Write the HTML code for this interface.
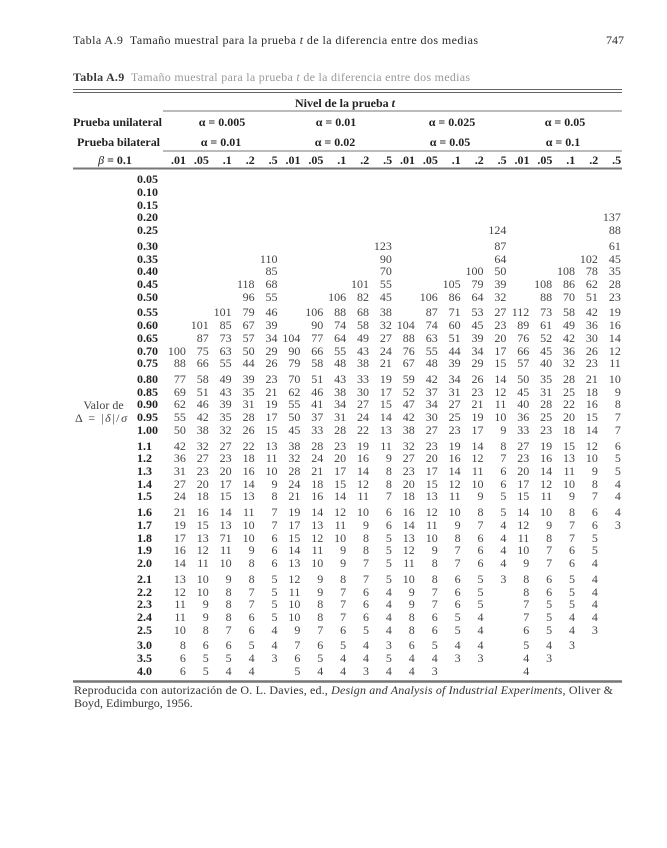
<!DOCTYPE html>
<html>
<head>
<meta charset="utf-8">
<style>
html,body{margin:0;padding:0;background:#fff;}
body{width:667px;height:848px;position:relative;overflow:hidden;font-family:"Liberation Serif",serif;}
svg{position:absolute;left:0;top:0;}
.r{position:absolute;left:137px;height:14px;line-height:14px;display:grid;grid-template-columns:26px repeat(20,22.9px);font-size:12px;font-family:"Liberation Serif",serif;color:#444;}
.r i{font-style:normal;text-align:right;white-space:nowrap;}
.r b{font-weight:bold;color:#222;white-space:nowrap;}
</style>
</head>
<body>
<svg width="667" height="848" viewBox="0 0 667 848" font-family="Liberation Serif, serif">
  <text x="73" y="44" font-size="12" fill="#2a2a2a" textLength="405" lengthAdjust="spacing">Tabla A.9&#160; Tamaño muestral para la prueba <tspan font-style="italic">t</tspan> de la diferencia entre dos medias</text>
  <text x="624" y="44" font-size="12" fill="#2a2a2a" text-anchor="end">747</text>
  <text x="73" y="81" font-size="12" fill="#9a9a9a" textLength="397" lengthAdjust="spacing"><tspan font-weight="bold" fill="#3a3a3a">Tabla A.9</tspan>&#160; Tamaño muestral para la prueba <tspan font-style="italic">t</tspan> de la diferencia entre dos medias</text>
  <line x1="73" y1="89.5" x2="622" y2="89.5" stroke="#666" stroke-width="1"/>
  <line x1="73" y1="92.5" x2="622" y2="92.5" stroke="#666" stroke-width="1"/>
  <text x="295" y="107" font-size="12" font-weight="bold" fill="#222">Nivel de la prueba <tspan font-style="italic">t</tspan></text>
  <line x1="163" y1="111" x2="622" y2="111" stroke="#777" stroke-width="1"/>
  <text x="73" y="126" font-size="12" font-weight="bold" fill="#222" textLength="89" lengthAdjust="spacing">Prueba unilateral</text>
  <text x="77" y="146" font-size="12" font-weight="bold" fill="#222" textLength="83" lengthAdjust="spacing">Prueba bilateral</text>
  <g font-size="12" font-weight="bold" fill="#222" text-anchor="middle">
    <text x="222" y="126">α = 0.005</text>
    <text x="336" y="126">α = 0.01</text>
    <text x="452" y="126">α = 0.025</text>
    <text x="565" y="126">α = 0.05</text>
    <text x="221" y="146">α = 0.01</text>
    <text x="335" y="146">α = 0.02</text>
    <text x="450" y="146">α = 0.05</text>
    <text x="563" y="146">α = 0.1</text>
  </g>
  <line x1="163" y1="151" x2="622" y2="151" stroke="#777" stroke-width="1"/>
  <text x="115" y="164" font-size="12" font-weight="bold" fill="#222" text-anchor="middle"><tspan font-style="italic" font-weight="normal">β</tspan> = 0.1</text>
  <g font-size="12" font-weight="bold" fill="#222" text-anchor="end">
    <text x="186" y="164">.01</text><text x="208.9" y="164">.05</text><text x="231.8" y="164">.1</text><text x="254.7" y="164">.2</text><text x="277.6" y="164">.5</text>
    <text x="300.5" y="164">.01</text><text x="323.4" y="164">.05</text><text x="346.3" y="164">.1</text><text x="369.2" y="164">.2</text><text x="392.1" y="164">.5</text>
    <text x="415" y="164">.01</text><text x="437.9" y="164">.05</text><text x="460.8" y="164">.1</text><text x="483.7" y="164">.2</text><text x="506.6" y="164">.5</text>
    <text x="529.5" y="164">.01</text><text x="552.4" y="164">.05</text><text x="575.3" y="164">.1</text><text x="598.2" y="164">.2</text><text x="621.1" y="164">.5</text>
  </g>
  <line x1="73" y1="168.5" x2="622" y2="168.5" stroke="#777" stroke-width="2"/>
  <text x="103.5" y="409" font-size="12" fill="#444" text-anchor="middle">Valor de</text>
  <text x="75" y="422" font-size="12" fill="#444" textLength="52" lengthAdjust="spacing">Δ = |<tspan font-style="italic">δ</tspan>|/<tspan font-style="italic">σ</tspan></text>
  <line x1="73" y1="681.5" x2="622" y2="681.5" stroke="#777" stroke-width="2.5"/>
  <text x="74" y="694" font-size="12" fill="#333" textLength="539" lengthAdjust="spacing">Reproducida con autorización de O. L. Davies, ed., <tspan font-style="italic">Design and Analysis of Industrial Experiments</tspan>, Oliver &amp;</text>
  <text x="74" y="707" font-size="12" fill="#333">Boyd, Edimburgo, 1956.</text>
</svg>

<div class="r" style="top:172.2px"><b>0.05</b></div>
<div class="r" style="top:184.9px"><b>0.10</b></div>
<div class="r" style="top:197.6px"><b>0.15</b></div>
<div class="r" style="top:210.3px"><b>0.20</b><i></i><i></i><i></i><i></i><i></i><i></i><i></i><i></i><i></i><i></i><i></i><i></i><i></i><i></i><i></i><i></i><i></i><i></i><i></i><i>137</i></div>
<div class="r" style="top:223.0px"><b>0.25</b><i></i><i></i><i></i><i></i><i></i><i></i><i></i><i></i><i></i><i></i><i></i><i></i><i></i><i></i><i>124</i><i></i><i></i><i></i><i></i><i>88</i></div>

<div class="r" style="top:238.8px"><b>0.30</b><i></i><i></i><i></i><i></i><i></i><i></i><i></i><i></i><i></i><i>123</i><i></i><i></i><i></i><i></i><i>87</i><i></i><i></i><i></i><i></i><i>61</i></div>
<div class="r" style="top:251.5px"><b>0.35</b><i></i><i></i><i></i><i></i><i>110</i><i></i><i></i><i></i><i></i><i>90</i><i></i><i></i><i></i><i></i><i>64</i><i></i><i></i><i></i><i>102</i><i>45</i></div>
<div class="r" style="top:264.2px"><b>0.40</b><i></i><i></i><i></i><i></i><i>85</i><i></i><i></i><i></i><i></i><i>70</i><i></i><i></i><i></i><i>100</i><i>50</i><i></i><i></i><i>108</i><i>78</i><i>35</i></div>
<div class="r" style="top:276.9px"><b>0.45</b><i></i><i></i><i></i><i>118</i><i>68</i><i></i><i></i><i></i><i>101</i><i>55</i><i></i><i></i><i>105</i><i>79</i><i>39</i><i></i><i>108</i><i>86</i><i>62</i><i>28</i></div>
<div class="r" style="top:289.6px"><b>0.50</b><i></i><i></i><i></i><i>96</i><i>55</i><i></i><i></i><i>106</i><i>82</i><i>45</i><i></i><i>106</i><i>86</i><i>64</i><i>32</i><i></i><i>88</i><i>70</i><i>51</i><i>23</i></div>

<div class="r" style="top:305.4px"><b>0.55</b><i></i><i></i><i>101</i><i>79</i><i>46</i><i></i><i>106</i><i>88</i><i>68</i><i>38</i><i></i><i>87</i><i>71</i><i>53</i><i>27</i><i>112</i><i>73</i><i>58</i><i>42</i><i>19</i></div>
<div class="r" style="top:318.1px"><b>0.60</b><i></i><i>101</i><i>85</i><i>67</i><i>39</i><i></i><i>90</i><i>74</i><i>58</i><i>32</i><i>104</i><i>74</i><i>60</i><i>45</i><i>23</i><i>89</i><i>61</i><i>49</i><i>36</i><i>16</i></div>
<div class="r" style="top:330.8px"><b>0.65</b><i></i><i>87</i><i>73</i><i>57</i><i>34</i><i>104</i><i>77</i><i>64</i><i>49</i><i>27</i><i>88</i><i>63</i><i>51</i><i>39</i><i>20</i><i>76</i><i>52</i><i>42</i><i>30</i><i>14</i></div>
<div class="r" style="top:343.5px"><b>0.70</b><i>100</i><i>75</i><i>63</i><i>50</i><i>29</i><i>90</i><i>66</i><i>55</i><i>43</i><i>24</i><i>76</i><i>55</i><i>44</i><i>34</i><i>17</i><i>66</i><i>45</i><i>36</i><i>26</i><i>12</i></div>
<div class="r" style="top:356.2px"><b>0.75</b><i>88</i><i>66</i><i>55</i><i>44</i><i>26</i><i>79</i><i>58</i><i>48</i><i>38</i><i>21</i><i>67</i><i>48</i><i>39</i><i>29</i><i>15</i><i>57</i><i>40</i><i>32</i><i>23</i><i>11</i></div>

<div class="r" style="top:372.0px"><b>0.80</b><i>77</i><i>58</i><i>49</i><i>39</i><i>23</i><i>70</i><i>51</i><i>43</i><i>33</i><i>19</i><i>59</i><i>42</i><i>34</i><i>26</i><i>14</i><i>50</i><i>35</i><i>28</i><i>21</i><i>10</i></div>
<div class="r" style="top:384.7px"><b>0.85</b><i>69</i><i>51</i><i>43</i><i>35</i><i>21</i><i>62</i><i>46</i><i>38</i><i>30</i><i>17</i><i>52</i><i>37</i><i>31</i><i>23</i><i>12</i><i>45</i><i>31</i><i>25</i><i>18</i><i>9</i></div>
<div class="r" style="top:397.4px"><b>0.90</b><i>62</i><i>46</i><i>39</i><i>31</i><i>19</i><i>55</i><i>41</i><i>34</i><i>27</i><i>15</i><i>47</i><i>34</i><i>27</i><i>21</i><i>11</i><i>40</i><i>28</i><i>22</i><i>16</i><i>8</i></div>
<div class="r" style="top:410.1px"><b>0.95</b><i>55</i><i>42</i><i>35</i><i>28</i><i>17</i><i>50</i><i>37</i><i>31</i><i>24</i><i>14</i><i>42</i><i>30</i><i>25</i><i>19</i><i>10</i><i>36</i><i>25</i><i>20</i><i>15</i><i>7</i></div>
<div class="r" style="top:422.8px"><b>1.00</b><i>50</i><i>38</i><i>32</i><i>26</i><i>15</i><i>45</i><i>33</i><i>28</i><i>22</i><i>13</i><i>38</i><i>27</i><i>23</i><i>17</i><i>9</i><i>33</i><i>23</i><i>18</i><i>14</i><i>7</i></div>

<div class="r" style="top:438.6px"><b>1.1</b><i>42</i><i>32</i><i>27</i><i>22</i><i>13</i><i>38</i><i>28</i><i>23</i><i>19</i><i>11</i><i>32</i><i>23</i><i>19</i><i>14</i><i>8</i><i>27</i><i>19</i><i>15</i><i>12</i><i>6</i></div>
<div class="r" style="top:451.3px"><b>1.2</b><i>36</i><i>27</i><i>23</i><i>18</i><i>11</i><i>32</i><i>24</i><i>20</i><i>16</i><i>9</i><i>27</i><i>20</i><i>16</i><i>12</i><i>7</i><i>23</i><i>16</i><i>13</i><i>10</i><i>5</i></div>
<div class="r" style="top:464.0px"><b>1.3</b><i>31</i><i>23</i><i>20</i><i>16</i><i>10</i><i>28</i><i>21</i><i>17</i><i>14</i><i>8</i><i>23</i><i>17</i><i>14</i><i>11</i><i>6</i><i>20</i><i>14</i><i>11</i><i>9</i><i>5</i></div>
<div class="r" style="top:476.7px"><b>1.4</b><i>27</i><i>20</i><i>17</i><i>14</i><i>9</i><i>24</i><i>18</i><i>15</i><i>12</i><i>8</i><i>20</i><i>15</i><i>12</i><i>10</i><i>6</i><i>17</i><i>12</i><i>10</i><i>8</i><i>4</i></div>
<div class="r" style="top:489.4px"><b>1.5</b><i>24</i><i>18</i><i>15</i><i>13</i><i>8</i><i>21</i><i>16</i><i>14</i><i>11</i><i>7</i><i>18</i><i>13</i><i>11</i><i>9</i><i>5</i><i>15</i><i>11</i><i>9</i><i>7</i><i>4</i></div>

<div class="r" style="top:505.2px"><b>1.6</b><i>21</i><i>16</i><i>14</i><i>11</i><i>7</i><i>19</i><i>14</i><i>12</i><i>10</i><i>6</i><i>16</i><i>12</i><i>10</i><i>8</i><i>5</i><i>14</i><i>10</i><i>8</i><i>6</i><i>4</i></div>
<div class="r" style="top:517.9px"><b>1.7</b><i>19</i><i>15</i><i>13</i><i>10</i><i>7</i><i>17</i><i>13</i><i>11</i><i>9</i><i>6</i><i>14</i><i>11</i><i>9</i><i>7</i><i>4</i><i>12</i><i>9</i><i>7</i><i>6</i><i>3</i></div>
<div class="r" style="top:530.6px"><b>1.8</b><i>17</i><i>13</i><i>71</i><i>10</i><i>6</i><i>15</i><i>12</i><i>10</i><i>8</i><i>5</i><i>13</i><i>10</i><i>8</i><i>6</i><i>4</i><i>11</i><i>8</i><i>7</i><i>5</i><i></i></div>
<div class="r" style="top:543.3px"><b>1.9</b><i>16</i><i>12</i><i>11</i><i>9</i><i>6</i><i>14</i><i>11</i><i>9</i><i>8</i><i>5</i><i>12</i><i>9</i><i>7</i><i>6</i><i>4</i><i>10</i><i>7</i><i>6</i><i>5</i><i></i></div>
<div class="r" style="top:556.0px"><b>2.0</b><i>14</i><i>11</i><i>10</i><i>8</i><i>6</i><i>13</i><i>10</i><i>9</i><i>7</i><i>5</i><i>11</i><i>8</i><i>7</i><i>6</i><i>4</i><i>9</i><i>7</i><i>6</i><i>4</i><i></i></div>

<div class="r" style="top:571.8px"><b>2.1</b><i>13</i><i>10</i><i>9</i><i>8</i><i>5</i><i>12</i><i>9</i><i>8</i><i>7</i><i>5</i><i>10</i><i>8</i><i>6</i><i>5</i><i>3</i><i>8</i><i>6</i><i>5</i><i>4</i><i></i></div>
<div class="r" style="top:584.5px"><b>2.2</b><i>12</i><i>10</i><i>8</i><i>7</i><i>5</i><i>11</i><i>9</i><i>7</i><i>6</i><i>4</i><i>9</i><i>7</i><i>6</i><i>5</i><i></i><i>8</i><i>6</i><i>5</i><i>4</i><i></i></div>
<div class="r" style="top:597.2px"><b>2.3</b><i>11</i><i>9</i><i>8</i><i>7</i><i>5</i><i>10</i><i>8</i><i>7</i><i>6</i><i>4</i><i>9</i><i>7</i><i>6</i><i>5</i><i></i><i>7</i><i>5</i><i>5</i><i>4</i><i></i></div>
<div class="r" style="top:609.9px"><b>2.4</b><i>11</i><i>9</i><i>8</i><i>6</i><i>5</i><i>10</i><i>8</i><i>7</i><i>6</i><i>4</i><i>8</i><i>6</i><i>5</i><i>4</i><i></i><i>7</i><i>5</i><i>4</i><i>4</i><i></i></div>
<div class="r" style="top:622.6px"><b>2.5</b><i>10</i><i>8</i><i>7</i><i>6</i><i>4</i><i>9</i><i>7</i><i>6</i><i>5</i><i>4</i><i>8</i><i>6</i><i>5</i><i>4</i><i></i><i>6</i><i>5</i><i>4</i><i>3</i><i></i></div>

<div class="r" style="top:638.4px"><b>3.0</b><i>8</i><i>6</i><i>6</i><i>5</i><i>4</i><i>7</i><i>6</i><i>5</i><i>4</i><i>3</i><i>6</i><i>5</i><i>4</i><i>4</i><i></i><i>5</i><i>4</i><i>3</i><i></i><i></i></div>
<div class="r" style="top:651.1px"><b>3.5</b><i>6</i><i>5</i><i>5</i><i>4</i><i>3</i><i>6</i><i>5</i><i>4</i><i>4</i><i>5</i><i>4</i><i>4</i><i>3</i><i>3</i><i></i><i>4</i><i>3</i><i></i><i></i><i></i></div>
<div class="r" style="top:663.8px"><b>4.0</b><i>6</i><i>5</i><i>4</i><i>4</i><i></i><i>5</i><i>4</i><i>4</i><i>3</i><i>4</i><i>4</i><i>3</i><i></i><i></i><i></i><i>4</i><i></i><i></i><i></i><i></i></div>
</body>
</html>
